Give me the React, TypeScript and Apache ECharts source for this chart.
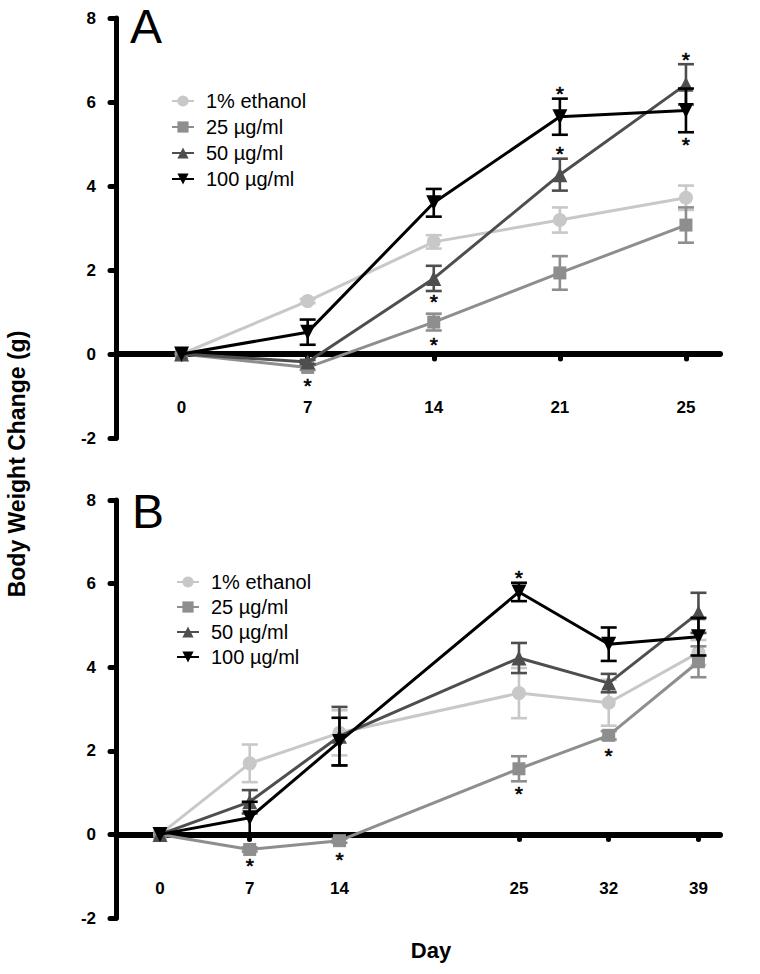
import React, { useEffect, useRef } from 'react';
import * as echarts from 'echarts';

const FONT = '"Liberation Sans", Arial, Helvetica, sans-serif';

// Groups (shared by both panels)
const groupNames = ['1% ethanol', '25 µg/ml', '50 µg/ml', '100 µg/ml'];
const groupColors = ['#c8c8c8', '#8e8e8e', '#4e4e4e', '#000000'];
const groupSymbols = ['circle', 'rect', 'triangle', 'path://M0,0L10,0L5,9Z'];
const groupSymbolSizes = [14, 13, 15, 15];

// Panel A — days and slot index on the axis
const daysA = ['0', '7', '14', '21', '25'];
const slotsA = [0, 1, 2, 3, 4];
const ethanolA = [0, 1.26, 2.67, 3.19, 3.72];
const ethanolAErr = [0, 0.05, 0.16, 0.3, 0.29];
const dose25A = [0, -0.32, 0.76, 1.93, 3.07];
const dose25AErr = [0, 0.06, 0.2, 0.4, 0.42];
const dose50A = [0, -0.19, 1.8, 4.27, 6.42];
const dose50AErr = [0, 0.05, 0.3, 0.38, 0.48];
const dose100A = [0, 0.52, 3.6, 5.65, 5.8];
const dose100AErr = [0, 0.3, 0.33, 0.43, 0.52];
const sigDaysA = ['7', '14', '14', '21', '21', '25', '25'];
const sigYA = [-0.7, 1.29, 0.28, 6.25, 4.82, 7.06, 5.03];

// Panel B — 14 → 25 spans two slots
const daysB = ['0', '7', '14', '25', '32', '39'];
const slotsB = [0, 1, 2, 4, 5, 6];
const ethanolB = [0, 1.7, 2.43, 3.38, 3.15, 4.35];
const ethanolBErr = [0, 0.45, 0.54, 0.6, 0.55, 0.3];
const dose25B = [0, -0.36, -0.15, 1.57, 2.37, 4.13];
const dose25BErr = [0, 0.05, 0.05, 0.3, 0.1, 0.37];
const dose50B = [0, 0.78, 2.35, 4.22, 3.62, 5.3];
const dose50BErr = [0, 0.28, 0.7, 0.36, 0.22, 0.48];
const dose100B = [0, 0.4, 2.22, 5.8, 4.55, 4.73];
const dose100BErr = [0, 0.38, 0.57, 0.22, 0.4, 0.45];
const sigDaysB = ['7', '14', '25', '25', '32'];
const sigYB = [-0.7, -0.55, 6.2, 1.04, 1.93];

const yTicks = { min: -2, max: 8, interval: 2 };

const SIG_FONT = 21;

function buildPanel(
  p: number,
  days: string[],
  slots: number[],
  vals: number[][],
  errs: number[][],
  sigDays: string[],
  sigY: number[]
) {
  const series: any[] = [];
  vals.forEach((v, g) => {
    const color = groupColors[g];
    series.push({
      type: 'custom',
      name: groupNames[g] + ' SEM' + p,
      xAxisIndex: p,
      yAxisIndex: p,
      z: 3 + g,
      silent: true,
      data: slots.map((s, i) => [s, v[i], errs[g][i]]),
      encode: { x: 0, y: 1 },
      renderItem: (params: any, api: any) => {
        const x = api.value(0);
        const y = api.value(1);
        const e = api.value(2);
        if (!e) return null;
        const t = api.coord([x, y + e]);
        const b = api.coord([x, y - e]);
        const h = 8;
        const st = { stroke: color, lineWidth: 2.6 };
        return {
          type: 'group',
          children: [
            { type: 'line', shape: { x1: t[0], y1: t[1], x2: b[0], y2: b[1] }, style: st },
            { type: 'line', shape: { x1: t[0] - h, y1: t[1], x2: t[0] + h, y2: t[1] }, style: st },
            { type: 'line', shape: { x1: b[0] - h, y1: b[1], x2: b[0] + h, y2: b[1] }, style: st },
          ],
        };
      },
    });
    series.push({
      type: 'line',
      name: groupNames[g],
      xAxisIndex: p,
      yAxisIndex: p,
      z: 3 + g,
      data: slots.map((s, i) => [s, v[i]]),
      symbol: groupSymbols[g],
      symbolSize: groupSymbolSizes[g],
      itemStyle: { color },
      lineStyle: { color, width: 3 },
    });
  });
  series.push({
    type: 'custom',
    name: 'sig' + p,
    xAxisIndex: p,
    yAxisIndex: p,
    z: 20,
    silent: true,
    data: sigDays.map((d, i) => [slots[days.indexOf(d)], sigY[i]]),
    encode: { x: 0, y: 1 },
    renderItem: (params: any, api: any) => {
      const c = api.coord([api.value(0), api.value(1)]);
      return {
        type: 'text',
        x: c[0],
        y: c[1] + SIG_FONT * 0.1,
        style: {
          text: '*',
          fontSize: SIG_FONT,
          fontFamily: FONT,
          fill: '#000',
          stroke: '#000',
          lineWidth: 0.6,
          align: 'center',
          verticalAlign: 'middle',
        },
      };
    },
  });
  return series;
}

function xAxisFor(p: number, days: string[], slots: number[], min: number, max: number, margin: number) {
  return {
    type: 'value',
    gridIndex: p,
    min,
    max,
    axisLine: { show: true, onZero: true, lineStyle: { color: '#000', width: 6 } },
    axisTick: { show: true, customValues: slots, length: 5, lineStyle: { color: '#000', width: 5, cap: 'round' } },
    axisLabel: {
      show: true,
      customValues: slots,
      formatter: (v: number) => days[slots.indexOf(Math.round(v))] ?? '',
      fontWeight: 'bold',
      fontSize: 17,
      fontFamily: FONT,
      color: '#000',
      margin,
    },
    splitLine: { show: false },
  };
}

function yAxisFor(p: number) {
  return {
    type: 'value',
    gridIndex: p,
    min: yTicks.min,
    max: yTicks.max,
    interval: yTicks.interval,
    axisLine: { show: true, onZero: false, lineStyle: { color: '#000', width: 5, cap: 'round' } },
    axisTick: { show: true, length: 6, lineStyle: { color: '#000', width: 5, cap: 'round' } },
    axisLabel: { fontWeight: 'bold', fontSize: 17, fontFamily: FONT, color: '#000', margin: 20 },
    splitLine: { show: false },
  };
}

export default function App() {
  const ref = useRef<HTMLDivElement>(null);
  useEffect(() => {
    if (!ref.current) return;
    const chart = echarts.init(ref.current, undefined, { renderer: 'svg' });
    const seriesA = buildPanel(
      0, daysA, slotsA,
      [ethanolA, dose25A, dose50A, dose100A],
      [ethanolAErr, dose25AErr, dose50AErr, dose100AErr],
      sigDaysA, sigYA
    );
    const seriesB = buildPanel(
      1, daysB, slotsB,
      [ethanolB, dose25B, dose50B, dose100B],
      [ethanolBErr, dose25BErr, dose50BErr, dose100BErr],
      sigDaysB, sigYB
    );
    const legendBase = {
      data: groupNames,
      orient: 'vertical',
      itemWidth: 22,
      itemHeight: 14,
      selectedMode: false,
      textStyle: { fontSize: 20, fontFamily: FONT, color: '#000', lineHeight: 20, padding: [0, 0, 0, 7] },
    };
    chart.setOption({
      animation: false,
      backgroundColor: '#fff',
      grid: [
        { left: 116, right: 40, top: 18, height: 420 },
        { left: 116, right: 40, top: 500, height: 418 },
      ],
      xAxis: [
        xAxisFor(0, daysA, slotsA, -0.52, 4.27, -39),
        xAxisFor(1, daysB, slotsB, -0.49, 6.24, -38),
      ],
      yAxis: [yAxisFor(0), yAxisFor(1)],
      legend: [
        { ...legendBase, left: 166, top: 86, itemGap: 6 },
        { ...legendBase, left: 171, top: 567, itemGap: 5 },
      ],
      graphic: [
        { type: 'text', x: 130, y: 26, style: { text: 'A', fontSize: 48, fontFamily: FONT, fill: '#000', align: 'left', verticalAlign: 'middle' } },
        { type: 'text', x: 132, y: 511, style: { text: 'B', fontSize: 48, fontFamily: FONT, fill: '#000', align: 'left', verticalAlign: 'middle' } },
        { type: 'text', x: 17, y: 464, rotation: Math.PI / 2, style: { text: 'Body Weight Change (g)', fontSize: 23, fontWeight: 'bold', fontFamily: FONT, fill: '#000', align: 'center', verticalAlign: 'middle' } },
        { type: 'text', x: 431, y: 950, style: { text: 'Day', fontSize: 22, fontWeight: 'bold', fontFamily: FONT, fill: '#000', align: 'center', verticalAlign: 'middle' } },
      ],
      series: [...seriesA, ...seriesB],
    });
    return () => chart.dispose();
  }, []);
  return <div ref={ref} style={{ position: 'absolute', left: 0, top: 0, width: 760, height: 974 }} />;
}
